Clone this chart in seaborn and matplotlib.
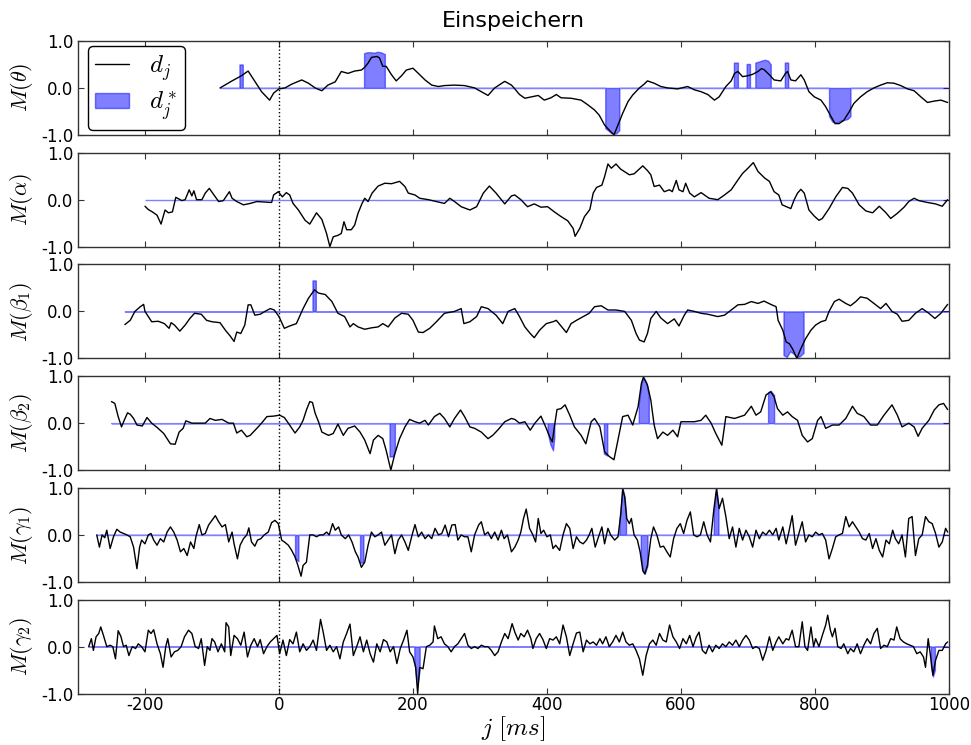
import matplotlib
matplotlib.use("Agg")
import matplotlib.pyplot as plt
import seaborn as sns
from matplotlib.lines import Line2D
from matplotlib.patches import Patch

# ---------------- data ----------------
theta_x = [-88, -70, -61, -56, -46, -36, -26, -14, -8, 0, 9, 19, 34, 44, 54, 64, 73, 84, 93, 103, 113, 123, 128, 133,
           138, 146, 150, 155, 160, 168, 175, 183, 190, 200, 208, 218, 228, 238, 247, 262, 277, 292, 302, 312, 322,
           337, 347, 352, 359, 367, 377, 387, 396, 406, 414, 421, 436, 451, 461, 471, 478, 486, 493, 500, 506, 513,
           521, 528, 538, 545, 550, 560, 570, 580, 595, 610, 620, 630, 640, 650, 657, 667, 675, 680, 685, 692, 700,
           707, 715, 720, 724, 732, 739, 749, 756, 759, 764, 771, 779, 784, 791, 799, 809, 816, 824, 830, 836, 843,
           851, 858, 868, 878, 888, 898, 908, 918, 928, 938, 948, 958, 968, 978, 988, 998]
theta_y = [0.0, 0.15, 0.22, 0.26, 0.36, 0.14, -0.08, -0.26, -0.11, -0.02, 0.0, 0.08, 0.17, 0.1, 0.0, -0.06, 0.06, 0.13,
           0.35, 0.31, 0.36, 0.38, 0.44, 0.53, 0.65, 0.67, 0.64, 0.46, 0.46, 0.28, 0.15, 0.26, 0.38, 0.42, 0.31, 0.17,
           0.06, 0.03, 0.05, 0.06, 0.05, 0.0, -0.08, -0.16, 0.0, 0.14, 0.06, -0.02, -0.14, -0.22, -0.19, -0.16, -0.26,
           -0.21, -0.14, -0.21, -0.22, -0.26, -0.36, -0.47, -0.58, -0.79, -0.9, -1.0, -0.79, -0.54, -0.29, -0.15, 0.0,
           0.08, 0.15, 0.1, 0.03, 0.0, -0.02, 0.03, -0.04, -0.08, -0.14, -0.26, -0.19, 0.03, 0.15, 0.31, 0.35, 0.24,
           0.26, 0.29, 0.35, 0.41, 0.39, 0.28, 0.17, 0.15, 0.31, 0.35, 0.17, 0.15, 0.28, 0.17, -0.08, -0.19, -0.26,
           -0.4, -0.61, -0.76, -0.76, -0.69, -0.51, -0.33, -0.19, -0.08, 0.0, 0.06, 0.11, 0.1, 0.05, -0.02, -0.06,
           -0.19, -0.31, -0.28, -0.26, -0.31]
theta_star = [([-59, -56, -54], [0.5, 0.5, 0.5]),
              ([127, 132, 137, 142, 147, 152, 158], [0.74, 0.76, 0.76, 0.75, 0.77, 0.76, 0.72]),
              ([487, 491, 495, 500, 504, 508], [-0.86, -0.9, -0.95, -0.98, -0.96, -0.9]),
              ([679, 685], [0.54, 0.54]),
              ([698, 703], [0.51, 0.51]),
              ([711, 716, 720, 725, 730, 734], [0.54, 0.56, 0.58, 0.6, 0.58, 0.5]),
              ([755, 760], [0.54, 0.54]),
              ([821, 826, 832, 838, 844, 849, 853], [-0.6, -0.72, -0.74, -0.7, -0.68, -0.66, -0.6])]

alpha_x = [-200, -195, -189, -182, -176, -170, -165, -159, -154, -145, -140, -134, -130, -127, -123, -115, -110, -104,
           -98, -90, -83, -74, -70, -63, -53, -43, -33, -21, -11, -8, -1, 5, 11, 16, 21, 29, 39, 46, 56, 64, 71, 76,
           81, 88, 93, 97, 101, 108, 113, 118, 124, 128, 133, 139, 148, 158, 168, 180, 188, 193, 203, 210, 223, 232,
           247, 255, 262, 272, 285, 295, 305, 314, 324, 337, 347, 352, 361, 371, 381, 391, 401, 411, 421, 431, 439,
           442, 449, 456, 464, 469, 474, 482, 486, 491, 496, 503, 510, 523, 530, 543, 550, 555, 560, 568, 575, 583,
           587, 593, 597, 603, 607, 613, 620, 630, 642, 655, 665, 675, 685, 692, 700, 708, 715, 725, 732, 739, 746,
           751, 759, 764, 769, 774, 779, 784, 791, 799, 806, 811, 821, 831, 841, 849, 856, 866, 876, 886, 896, 906,
           913, 923, 933, 940, 948, 955, 968, 980, 990, 998]
alpha_y = [-0.14, -0.21, -0.26, -0.33, -0.52, -0.22, -0.28, -0.26, 0.05, -0.02, 0.0, 0.21, 0.08, 0.19, 0.0, 0.0, 0.14,
           0.24, 0.12, -0.04, -0.02, 0.17, 0.03, -0.04, -0.11, -0.08, -0.04, -0.05, -0.06, 0.1, 0.17, 0.06, 0.15, 0.1,
           -0.08, -0.22, -0.44, -0.52, -0.28, -0.42, -0.72, -1.0, -0.79, -0.76, -0.72, -0.47, -0.64, -0.64, -0.54,
           -0.29, -0.08, 0.03, -0.04, 0.14, 0.29, 0.35, 0.34, 0.39, 0.28, 0.14, 0.1, 0.03, 0.0, -0.03, -0.08, 0.03,
           -0.04, -0.15, -0.22, -0.15, 0.14, 0.29, 0.14, -0.09, 0.08, 0.1, 0.0, -0.15, -0.09, -0.16, -0.15, -0.26,
           -0.36, -0.45, -0.61, -0.78, -0.61, -0.36, -0.21, 0.14, 0.26, 0.31, 0.49, 0.76, 0.67, 0.76, 0.65, 0.53,
           0.55, 0.72, 0.62, 0.53, 0.28, 0.31, 0.17, 0.21, 0.17, 0.41, 0.21, 0.17, 0.35, 0.14, 0.06, 0.15, 0.03, 0.0,
           0.1, 0.21, 0.42, 0.56, 0.67, 0.79, 0.6, 0.46, 0.39, 0.17, 0.1, -0.11, -0.16, -0.19, 0.0, 0.14, 0.22, 0.14,
           -0.22, -0.35, -0.44, -0.4, -0.19, 0.06, 0.26, 0.24, 0.14, -0.11, -0.24, -0.28, -0.14, -0.28, -0.4, -0.29,
           -0.16, -0.04, 0.03, -0.02, -0.06, -0.09, -0.14, 0.0]
alpha_star = []

beta1_x = [-230, -222, -215, -207, -202, -200, -190, -180, -171, -164, -161, -156, -148, -140, -133, -126, -116, -108,
           -100, -88, -80, -73, -67, -63, -57, -51, -46, -42, -36, -28, -21, -13, -7, 0, 8, 16, 26, 36, 44, 53, 59, 69,
           79, 88, 98, 106, 111, 118, 128, 138, 148, 155, 163, 173, 183, 193, 200, 208, 215, 225, 235, 247, 262, 272,
           276, 285, 295, 302, 312, 324, 334, 342, 352, 359, 367, 375, 381, 389, 399, 409, 414, 421, 429, 436, 444,
           454, 463, 471, 481, 491, 503, 516, 526, 533, 538, 545, 550, 555, 563, 570, 580, 590, 597, 605, 610, 620,
           630, 640, 655, 665, 675, 685, 695, 705, 715, 724, 734, 742, 745, 752, 757, 762, 767, 773, 779, 786, 794,
           801, 809, 816, 821, 829, 836, 846, 853, 861, 868, 878, 888, 898, 906, 915, 923, 930, 940, 950, 960, 970,
           979, 988, 998]
beta1_y = [-0.28, -0.19, 0.0, 0.1, 0.15, 0.0, -0.22, -0.21, -0.26, -0.36, -0.24, -0.29, -0.42, -0.29, -0.15, -0.04,
           -0.06, -0.19, -0.22, -0.24, -0.4, -0.52, -0.64, -0.44, -0.47, -0.29, 0.14, 0.14, -0.08, -0.06, 0.0, 0.06,
           0.03, -0.11, -0.36, -0.31, -0.26, 0.06, 0.28, 0.46, 0.39, 0.36, 0.21, -0.04, -0.11, -0.33, -0.26, -0.33,
           -0.38, -0.35, -0.33, -0.26, -0.33, -0.14, -0.04, -0.06, -0.19, -0.44, -0.45, -0.36, -0.22, -0.04, 0.0,
           0.06, -0.26, -0.22, -0.11, 0.1, 0.06, -0.08, -0.26, 0.0, 0.06, -0.11, -0.33, -0.47, -0.56, -0.4, -0.26,
           -0.22, -0.19, -0.31, -0.45, -0.26, -0.19, -0.11, -0.04, 0.1, 0.12, 0.03, 0.03, 0.0, -0.19, -0.47, -0.61,
           -0.65, -0.47, -0.15, 0.0, -0.14, -0.26, -0.16, -0.31, -0.08, 0.03, 0.0, -0.04, -0.06, -0.11, -0.08, 0.03,
           0.14, 0.15, 0.21, 0.17, 0.22, 0.15, 0.1, -0.19, -0.4, -0.65, -0.69, -0.81, -1.0, -0.79, -0.58, -0.4,
           -0.29, -0.22, -0.19, 0.0, 0.21, 0.26, 0.17, 0.12, 0.21, 0.31, 0.28, 0.17, 0.06, 0.17, 0.0, -0.06, -0.21,
           -0.19, -0.04, 0.06, -0.04, -0.15, -0.04, 0.15]
beta1_star = [([50, 55], [0.66, 0.66]),
              ([753, 758, 763, 768, 773, 778, 783], [-0.93, -0.97, -0.85, -0.9, -0.98, -0.95, -0.88])]

beta2_x = [-250, -245, -240, -235, -231, -226, -222, -217, -212, -204, -197, -190, -182, -172, -162, -155, -149, -143,
           -139, -130, -120, -110, -103, -95, -85, -75, -68, -63, -56, -48, -43, -33, -26, -18, -8, 1, 8, 14, 24, 31,
           36, 41, 46, 50, 54, 59, 64, 74, 81, 88, 96, 103, 113, 121, 128, 136, 141, 148, 155, 160, 167, 173, 180,
           188, 195, 203, 210, 218, 223, 232, 240, 247, 255, 262, 271, 277, 285, 292, 302, 312, 319, 327, 337, 347,
           352, 359, 367, 375, 382, 391, 399, 404, 408, 411, 415, 421, 427, 434, 441, 451, 458, 466, 471, 479, 486,
           493, 500, 506, 513, 521, 528, 536, 541, 544, 550, 555, 560, 565, 573, 580, 588, 595, 600, 610, 620, 630,
           637, 645, 652, 661, 667, 680, 695, 705, 712, 719, 727, 734, 739, 744, 752, 759, 766, 774, 781, 789, 796,
           804, 809, 816, 826, 836, 846, 856, 863, 873, 883, 893, 903, 915, 923, 930, 940, 948, 954, 960, 970, 978,
           985, 992, 998]
beta2_y = [0.46, 0.42, 0.14, -0.08, 0.06, 0.22, 0.19, 0.1, -0.04, -0.06, 0.12, 0.0, -0.09, -0.22, -0.44, -0.45, -0.19,
           -0.11, 0.05, 0.0, 0.0, 0.0, 0.1, 0.06, 0.08, 0.0, 0.0, -0.21, -0.15, -0.29, -0.26, -0.11, 0.0, 0.14, 0.15,
           0.17, 0.12, 0.0, -0.21, -0.08, 0.06, 0.28, 0.46, 0.44, 0.21, 0.03, -0.19, -0.26, -0.22, -0.02, -0.26,
           -0.11, -0.06, -0.19, -0.36, -0.65, -0.36, -0.26, -0.33, -0.58, -1.0, -0.65, -0.33, -0.08, 0.08, 0.03, 0.0,
           0.06, -0.04, 0.14, 0.21, 0.1, -0.08, 0.1, 0.28, 0.14, -0.08, -0.11, -0.19, -0.33, -0.26, -0.14, 0.03, 0.1,
           0.08, 0.0, 0.03, -0.15, 0.0, 0.15, -0.11, -0.29, -0.4, -0.08, 0.29, 0.31, 0.39, 0.17, -0.08, -0.26, -0.44,
           0.03, 0.1, -0.08, -0.61, -0.71, -0.78, -0.36, 0.14, 0.17, -0.04, 0.35, 0.85, 0.98, 0.81, 0.49, -0.04,
           -0.33, -0.19, -0.26, -0.15, -0.29, 0.03, 0.03, 0.03, 0.06, 0.17, 0.0, -0.22, -0.47, 0.14, 0.1, 0.17, 0.36,
           0.17, 0.24, 0.6, 0.67, 0.56, 0.31, 0.17, 0.24, 0.14, 0.06, -0.26, -0.4, -0.33, 0.06, 0.14, -0.11, -0.04,
           -0.04, 0.1, 0.36, 0.21, 0.14, -0.04, -0.04, 0.17, 0.39, 0.17, -0.08, 0.0, -0.08, -0.28, -0.11, 0.06, 0.28,
           0.39, 0.42, 0.29]
beta2_star = [([165, 170, 173], [-0.71, -0.71, -0.6]),
              ([401, 405, 409, 411], [-0.2, -0.45, -0.58, -0.3]),
              ([485, 490], [-0.65, -0.69]),
              ([537, 541, 544, 548, 552], [0.42, 0.85, 0.98, 0.88, 0.6]),
              ([730, 734, 739], [0.66, 0.69, 0.6])]

gamma1_x = [-272, -268, -264, -260, -257, -252, -247, -242, -237, -232, -227, -222, -217, -212, -208, -205, -200, -195,
            -191, -187, -182, -177, -172, -167, -162, -157, -152, -147, -142, -137, -132, -127, -124, -119, -115, -110,
            -105, -100, -95, -90, -85, -80, -75, -70, -67, -62, -58, -53, -48, -45, -41, -36, -32, -27, -22, -16, -11,
            -6, -1, 4, 9, 14, 19, 24, 28, 33, 36, 41, 46, 51, 56, 61, 66, 71, 75, 80, 84, 89, 93, 99, 104, 109, 114,
            118, 123, 128, 133, 138, 143, 148, 153, 158, 163, 168, 173, 178, 183, 188, 193, 198, 203, 208, 213, 218,
            223, 228, 233, 238, 243, 248, 253, 258, 263, 267, 272, 277, 282, 287, 292, 298, 302, 307, 312, 317, 322,
            327, 332, 336, 341, 347, 352, 357, 361, 365, 369, 374, 379, 383, 387, 391, 395, 400, 405, 409, 413, 419,
            424, 429, 434, 439, 444, 449, 454, 459, 463, 467, 472, 477, 482, 486, 491, 495, 501, 506, 510, 513, 516,
            519, 523, 526, 530, 535, 539, 543, 546, 550, 555, 559, 564, 569, 574, 579, 584, 589, 594, 599, 604, 609,
            614, 619, 624, 629, 634, 639, 644, 649, 653, 657, 662, 667, 672, 677, 682, 687, 692, 697, 702, 707, 712,
            717, 722, 727, 732, 737, 742, 746, 752, 757, 761, 766, 771, 776, 781, 786, 791, 796, 801, 806, 811, 816,
            821, 826, 831, 836, 841, 846, 851, 856, 861, 866, 871, 876, 881, 886, 891, 896, 901, 906, 911, 916, 920,
            925, 930, 935, 940, 945, 950, 955, 960, 965, 970, 975, 980, 985, 990, 995, 998]
gamma1_y = [0.0, -0.26, 0.0, -0.06, 0.1, -0.29, -0.04, 0.12, 0.06, 0.03, 0.0, -0.04, -0.26, -0.72, -0.26, -0.11, -0.19,
            0.0, 0.03, -0.11, -0.22, -0.08, -0.15, 0.06, 0.17, 0.06, -0.11, -0.36, -0.29, -0.44, -0.15, -0.29, -0.04,
            0.22, 0.0, 0.03, 0.21, 0.31, 0.41, 0.28, 0.17, 0.22, -0.15, 0.06, -0.19, -0.51, -0.22, -0.08, 0.0, 0.15,
            -0.15, -0.24, -0.11, -0.08, 0.0, 0.06, 0.26, 0.31, 0.24, -0.11, -0.16, -0.22, -0.33, -0.47, -0.64, -0.88,
            -0.65, -0.58, 0.0, 0.0, -0.04, 0.0, 0.0, 0.06, 0.0, 0.24, 0.1, 0.17, 0.0, -0.08, 0.0, -0.15, -0.36, -0.47,
            -0.69, -0.58, -0.22, 0.06, -0.04, 0.0, 0.06, -0.22, -0.11, 0.0, -0.4, -0.11, 0.0, -0.15, -0.33, -0.04,
            0.22, -0.04, 0.06, -0.08, 0.0, -0.08, 0.14, 0.0, 0.03, 0.21, -0.04, 0.21, 0.22, -0.11, 0.0, -0.04, -0.04,
            -0.36, 0.0, 0.21, 0.28, 0.0, 0.06, -0.08, 0.06, -0.11, 0.1, -0.08, 0.0, -0.36, -0.26, -0.11, 0.06, 0.35,
            0.55, 0.14, 0.0, -0.15, 0.35, 0.03, 0.1, -0.04, 0.0, -0.29, -0.22, -0.33, 0.0, 0.24, 0.14, -0.29, -0.04,
            -0.15, -0.19, -0.11, 0.0, 0.14, -0.26, -0.04, 0.17, -0.19, 0.14, 0.0, -0.11, -0.04, 0.42, 0.98, 0.81,
            0.35, 0.24, 0.35, 0.0, -0.11, -0.36, -0.76, -0.83, -0.65, -0.08, 0.17, 0.0, -0.26, -0.24, -0.36, -0.47,
            -0.08, 0.14, 0.24, 0.03, 0.31, 0.49, 0.0, -0.04, 0.0, 0.28, 0.0, -0.15, 0.53, 0.98, 0.56, 0.78, 0.39,
            -0.08, 0.17, -0.26, 0.14, -0.11, 0.1, -0.04, -0.26, 0.1, -0.08, 0.06, 0.0, 0.1, 0.0, 0.14, -0.11, 0.17,
            -0.19, 0.06, 0.41, -0.22, 0.03, 0.28, -0.15, 0.0, -0.04, 0.06, 0.0, 0.03, -0.11, -0.51, -0.29, -0.04, 0.0,
            0.03, 0.39, 0.17, 0.28, 0.17, 0.06, -0.08, -0.11, 0.03, -0.29, -0.08, -0.33, -0.47, -0.11, -0.19, 0.1,
            -0.08, -0.19, 0.0, -0.47, 0.35, 0.39, -0.44, -0.08, 0.0, 0.39, 0.28, 0.24, 0.03, -0.26, -0.15, 0.14,
            0.06]
gamma1_star = [([24, 29], [-0.5, -0.56]),
               ([121, 126], [-0.59, -0.59]),
               ([508, 511, 513, 516, 518], [0.3, 0.7, 0.98, 0.8, 0.45]),
               ([540, 543, 546, 550], [-0.4, -0.76, -0.83, -0.65]),
               ([649, 653, 656], [0.5, 0.98, 0.6])]

gamma2_x = [-284, -280, -277, -273, -269, -266, -262, -257, -252, -248, -244, -240, -236, -232, -228, -224, -219, -214,
            -210, -205, -200, -195, -191, -187, -182, -177, -173, -169, -166, -161, -156, -151, -146, -141, -135, -130,
            -125, -120, -116, -111, -107, -103, -100, -96, -91, -86, -81, -79, -75, -72, -67, -62, -57, -52, -47, -42,
            -37, -32, -28, -23, -18, -13, -8, -3, 1, 6, 11, 16, 21, 26, 31, 36, 41, 46, 51, 56, 62, 66, 71, 76, 81, 86,
            91, 96, 101, 106, 111, 116, 121, 126, 131, 136, 141, 146, 151, 156, 161, 166, 171, 176, 181, 186, 191, 195,
            200, 204, 207, 210, 215, 220, 225, 230, 232, 237, 242, 247, 252, 257, 262, 267, 272, 277, 282, 287, 292,
            297, 302, 307, 312, 317, 322, 327, 332, 337, 342, 348, 352, 357, 361, 366, 371, 376, 379, 384, 389, 394,
            399, 404, 409, 414, 419, 424, 429, 434, 439, 444, 449, 454, 459, 464, 469, 474, 479, 483, 488, 493, 498,
            503, 508, 513, 518, 523, 528, 533, 538, 543, 548, 553, 558, 563, 568, 573, 578, 583, 588, 593, 598, 603,
            608, 613, 618, 623, 627, 632, 637, 642, 647, 652, 657, 662, 667, 672, 677, 682, 687, 692, 697, 702, 707,
            712, 717, 722, 727, 732, 737, 742, 746, 752, 757, 761, 766, 771, 776, 781, 785, 789, 794, 798, 801, 806,
            811, 816, 819, 823, 826, 830, 834, 839, 843, 849, 853, 858, 863, 868, 873, 878, 883, 888, 893, 898, 903,
            908, 913, 918, 922, 927, 932, 937, 942, 947, 952, 957, 962, 965, 969, 973, 976, 980, 985, 990, 995, 998]
gamma2_y = [0.0, 0.17, -0.08, 0.21, 0.28, 0.42, 0.24, 0.0, 0.03, 0.0, -0.26, 0.34, 0.22, 0.0, 0.03, -0.19, 0.0, -0.04,
            0.06, 0.0, -0.11, 0.35, 0.28, 0.36, 0.06, -0.15, -0.44, 0.0, 0.17, -0.22, -0.11, -0.08, 0.0, 0.21, 0.35,
            0.28, 0.0, -0.04, 0.17, -0.4, 0.0, -0.08, 0.17, 0.1, -0.11, 0.06, -0.11, 0.51, 0.42, -0.19, 0.24, 0.17,
            0.03, 0.31, -0.22, 0.03, 0.17, 0.0, 0.15, -0.15, 0.0, 0.1, 0.17, 0.24, -0.15, 0.14, -0.19, 0.15, 0.06,
            0.31, -0.11, 0.06, -0.08, 0.0, 0.14, -0.08, 0.58, 0.31, -0.08, 0.03, -0.11, 0.0, -0.26, 0.1, 0.28, 0.48,
            -0.19, 0.0, 0.21, -0.11, 0.14, -0.15, -0.33, 0.06, -0.11, 0.15, 0.1, -0.11, 0.0, -0.36, -0.04, 0.14, 0.35,
            -0.11, -0.22, -0.44, -1.0, -0.44, -0.47, 0.0, 0.03, 0.1, 0.44, 0.17, 0.21, 0.06, 0.0, -0.11, 0.0, 0.06,
            0.17, 0.28, 0.03, -0.04, 0.0, -0.04, 0.03, 0.0, 0.0, -0.08, -0.19, -0.11, 0.1, 0.28, 0.17, 0.49, 0.31,
            0.14, 0.28, 0.21, 0.35, 0.17, -0.04, 0.17, 0.28, 0.15, -0.04, 0.17, 0.14, 0.21, 0.06, 0.46, 0.21, -0.19,
            0.06, 0.29, 0.31, -0.11, 0.14, 0.06, 0.1, 0.03, 0.17, 0.06, 0.21, 0.0, 0.1, 0.24, 0.1, 0.31, 0.1, 0.03,
            0.06, -0.08, -0.26, -0.61, -0.19, 0.06, 0.14, 0.03, 0.28, 0.14, 0.1, 0.46, 0.21, 0.1, -0.04, 0.17, 0.06,
            0.24, 0.0, 0.21, 0.31, -0.08, -0.15, 0.03, -0.11, 0.03, -0.04, 0.06, 0.0, 0.1, 0.03, 0.14, 0.0, 0.14,
            0.24, 0.14, -0.04, 0.0, -0.04, -0.29, -0.08, 0.21, -0.08, 0.1, 0.21, 0.06, 0.17, 0.14, 0.35, 0.0, 0.0,
            0.53, 0.0, -0.08, 0.42, 0.0, 0.17, 0.0, 0.24, 0.46, 0.67, 0.35, 0.21, 0.39, 0.0, -0.04, 0.06, -0.15,
            -0.04, -0.11, 0.06, -0.15, 0.03, 0.17, 0.06, 0.28, 0.39, -0.04, 0.03, 0.0, 0.17, 0.14, 0.42, 0.17, 0.1,
            0.06, 0.03, 0.0, -0.15, -0.11, -0.22, -0.44, 0.17, -0.26, -0.61, -0.29, -0.08, -0.08, 0.06, 0.1]
gamma2_star = [([202, 205, 207, 210], [-0.3, -0.65, -0.79, -0.5]),
               ([973, 976, 979], [-0.4, -0.64, -0.5])]

labels = [r"$M(\theta)$", r"$M(\alpha)$", r"$M(\beta_1)$", r"$M(\beta_2)$", r"$M(\gamma_1)$", r"$M(\gamma_2)$"]
xticks = [-200, 0, 200, 400, 600, 800, 1000]
yticks = [-1.0, 0.0, 1.0]
ytick_labels = ["-1.0", "0.0", "1.0"]


def star_curve(x0, x1, segs):
    xs, ys = [x0], [0.0]
    for sx, sy in segs:
        xs += [sx[0]] + list(sx) + [sx[-1]]
        ys += [0.0] + list(sy) + [0.0]
    xs.append(x1)
    ys.append(0.0)
    return xs, ys


# ---------------- style ----------------
sns.set_style("white")
plt.rcParams.update({
    "font.family": ["DejaVu Sans"],
    "mathtext.fontset": "cm",
    "axes.unicode_minus": False,
    "xtick.direction": "in",
    "ytick.direction": "in",
    "axes.edgecolor": "#333333",
    "axes.linewidth": 1.0,
    "text.color": "black",
    "axes.labelcolor": "black",
    "xtick.color": "black",
    "ytick.color": "black",
})

fig, axes = plt.subplots(6, 1, figsize=(9.71, 7.45), dpi=100, sharex=True)
fig.subplots_adjust(left=0.0803, right=0.9773, top=0.945, bottom=0.069, hspace=0.19)

panels = [(theta_x, theta_y, theta_star), (alpha_x, alpha_y, alpha_star), (beta1_x, beta1_y, beta1_star),
          (beta2_x, beta2_y, beta2_star), (gamma1_x, gamma1_y, gamma1_star), (gamma2_x, gamma2_y, gamma2_star)]

for ax, lab, (xs, ys, segs) in zip(axes, labels, panels):
    sx, sy = star_curve(xs[0], xs[-1], segs)
    ax.fill_between(sx, 0, sy, facecolor="blue", edgecolor="blue", alpha=0.5, linewidth=1.0)
    sns.lineplot(x=xs, y=ys, ax=ax, color="black", linewidth=1.0, estimator=None, sort=False)
    ax.axvline(0, color="black", linestyle=":", linewidth=1.0)
    ax.set_xlim(-300, 1000)
    ax.set_ylim(-1.0, 1.0)
    ax.set_yticks(yticks)
    ax.set_yticklabels(ytick_labels)
    ax.set_ylabel(lab, fontsize=16)
    ax.tick_params(axis="both", which="both", direction="in", length=4, width=0.8,
                   top=True, right=True, bottom=True, left=True, labelsize=12, color="#333333")
    ax.tick_params(axis="x", pad=2)
    for s in ax.spines.values():
        s.set_visible(True)

axes[-1].set_xticks(xticks)
axes[-1].set_xticklabels([str(t) for t in xticks])
axes[-1].set_xlabel(r"$j\ [ms]$", fontsize=18, labelpad=0)
axes[0].set_title("Einspeichern", fontsize=16, pad=10)

handles = [Line2D([], [], color="black", linewidth=1.0),
           Patch(facecolor="blue", edgecolor="blue", alpha=0.5)]
leg = axes[0].legend(handles, [r"$d_j$", r"$d^*_j$"], loc="upper left", bbox_to_anchor=(0.0115, 0.95),
                     borderaxespad=0, fontsize=18, frameon=True, fancybox=True, framealpha=1,
                     handlelength=1.35, handleheight=0.55, handletextpad=0.8, borderpad=0.3, labelspacing=0.25)
leg.get_frame().set_edgecolor("black")

fig.savefig("out.png", dpi=100)
